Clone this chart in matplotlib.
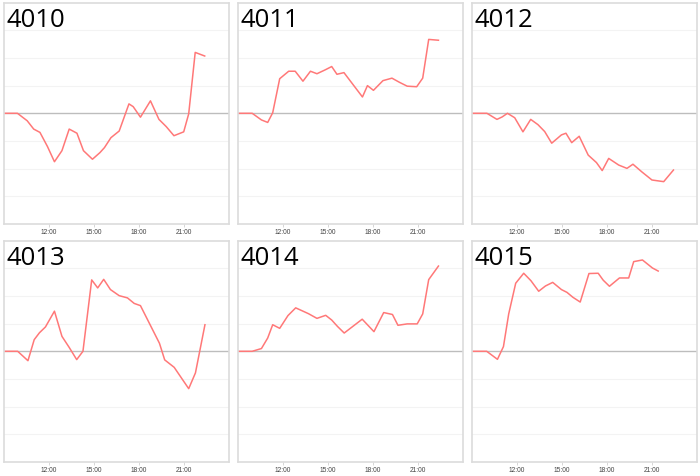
#!/usr/bin/env python3
import matplotlib
matplotlib.use("Agg")
import matplotlib.pyplot as plt

# change in % vs. open, one series per code
codes = ["4010", "4011", "4012", "4013", "4014", "4015"]

times_4010 = ["09:00", "09:55", "10:34", "11:00", "11:25", "11:55", "12:23",
              "12:53", "13:22", "13:53", "14:19", "14:55", "15:25", "15:43",
              "16:09", "16:42", "17:21", "17:38", "18:07", "18:47", "19:21",
              "19:50", "20:21", "21:00", "21:20", "21:46", "22:24"]
vals_4010 = [0, 0, -0.27, -0.57, -0.69, -1.20, -1.75, -1.35, -0.57, -0.72,
             -1.35, -1.66, -1.42, -1.24, -0.88, -0.64, 0.34, 0.24, -0.14,
             0.45, -0.22, -0.48, -0.81, -0.67, -0.02, 2.20, 2.07]

times_4011 = ["09:00", "09:58", "10:35", "11:00", "11:20", "11:48", "12:24",
              "12:50", "13:21", "13:51", "14:17", "14:50", "15:16", "15:37",
              "16:05", "17:19", "17:39", "18:03", "18:41", "19:17", "19:47",
              "20:18", "20:56", "21:20", "21:44", "22:23"]
vals_4011 = [0, 0, -0.24, -0.33, 0.02, 1.25, 1.52, 1.52, 1.16, 1.52, 1.43,
             1.57, 1.69, 1.41, 1.47, 0.59, 1.00, 0.83, 1.18, 1.27, 1.12,
             0.98, 0.96, 1.27, 2.67, 2.64]

times_4012 = ["09:00", "10:01", "10:41", "11:02", "11:23", "11:52", "12:25",
              "12:56", "13:25", "13:52", "14:20", "14:59", "15:17", "15:40",
              "16:10", "16:46", "17:19", "17:42", "18:08", "18:48", "19:21",
              "19:45", "20:21", "21:01", "21:48", "22:27"]
vals_4012 = [0, 0, -0.22, -0.13, 0, -0.16, -0.67, -0.22, -0.41, -0.66,
             -1.08, -0.78, -0.72, -1.06, -0.83, -1.51, -1.78, -2.07, -1.63,
             -1.87, -1.99, -1.84, -2.12, -2.41, -2.47, -2.05]

times_4013 = ["09:00", "09:56", "10:37", "11:02", "11:23", "11:47", "12:23",
              "12:53", "13:22", "13:52", "14:17", "14:52", "15:16", "15:40",
              "16:07", "16:42", "17:15", "17:42", "18:07", "19:23", "19:44",
              "20:22", "21:20", "21:47", "22:25"]
vals_4013 = [0, 0, -0.34, 0.42, 0.67, 0.88, 1.45, 0.54, 0.14, -0.30, 0,
             2.58, 2.29, 2.60, 2.23, 2.01, 1.93, 1.73, 1.65, 0.29, -0.31,
             -0.58, -1.35, -0.78, 0.96]

times_4014 = ["09:00", "09:58", "10:35", "11:00", "11:20", "11:48", "12:21",
              "12:52", "13:43", "14:17", "14:52", "15:16", "15:39", "16:06",
              "17:18", "18:05", "18:44", "19:19", "19:41", "20:18", "20:58",
              "21:20", "21:44", "22:23"]
vals_4014 = [0, 0, 0.10, 0.48, 0.96, 0.83, 1.29, 1.57, 1.36, 1.19, 1.30,
             1.13, 0.90, 0.66, 1.16, 0.71, 1.40, 1.33, 0.94, 0.99, 0.99,
             1.35, 2.59, 3.08]

times_4015 = ["09:00", "10:00", "10:43", "11:07", "11:28", "11:56", "12:28",
              "12:57", "13:28", "13:55", "14:24", "14:59", "15:21", "15:45",
              "16:14", "16:49", "17:26", "17:46", "18:11", "18:51", "19:28",
              "19:48", "20:23", "21:03", "21:26"]
vals_4015 = [0, 0, -0.29, 0.17, 1.35, 2.46, 2.82, 2.55, 2.17, 2.36, 2.49,
             2.23, 2.13, 1.95, 1.78, 2.81, 2.82, 2.57, 2.35, 2.65, 2.65,
             3.24, 3.30, 3.01, 2.90]

series = [
    (times_4010, vals_4010), (times_4011, vals_4011), (times_4012, vals_4012),
    (times_4013, vals_4013), (times_4014, vals_4014), (times_4015, vals_4015),
]
tick_hours = [12, 15, 18, 21]
tick_labels = ["12:00", "15:00", "18:00", "21:00"]


def to_hours(t):
    h, m = t.split(":")
    return int(h) + int(m) / 60


W, H = 700, 476
fig = plt.figure(figsize=(W / 100, H / 100), dpi=100)

lefts = [3.7, 237.7, 471.7]
tops = [2.6, 240.6]
aw, ah = 225, 221.4

for i, code in enumerate(codes):
    row, col = divmod(i, 3)
    ax = fig.add_axes([lefts[col] / W, 1 - (tops[row] + ah) / H, aw / W, ah / H])
    times, vals = series[i]
    x = [to_hours(t) for t in times]

    for g in [-3, -2, -1, 1, 2, 3]:
        ax.axhline(g, color="#f3f3f3", lw=0.8, zorder=0)
    ax.axhline(0, color="#bdbdbd", lw=1.0, zorder=1)
    ax.plot(x, vals, color="#ff7878", lw=1.1, zorder=2)

    ax.set_xlim(9, 24)
    ax.set_ylim(-4, 4)
    ax.set_yticks([])
    ax.set_xticks(tick_hours)
    ax.set_xticklabels(tick_labels)
    ax.tick_params(axis="x", length=2, width=0.6, color="#d0d0d0",
                   labelsize=4.8, labelcolor="#444444", pad=1.5)
    for lbl in ax.get_xticklabels():
        lbl.set_family("Liberation Sans")
    for s in ax.spines.values():
        s.set_color("#dcdcdc")
        s.set_linewidth(1.2)

    ax.text(0.012, 0.891, code, transform=ax.transAxes, fontsize=18.5,
            family="Open Sans", color="#000000", va="baseline", ha="left")

fig.savefig("out.png", dpi=100)
